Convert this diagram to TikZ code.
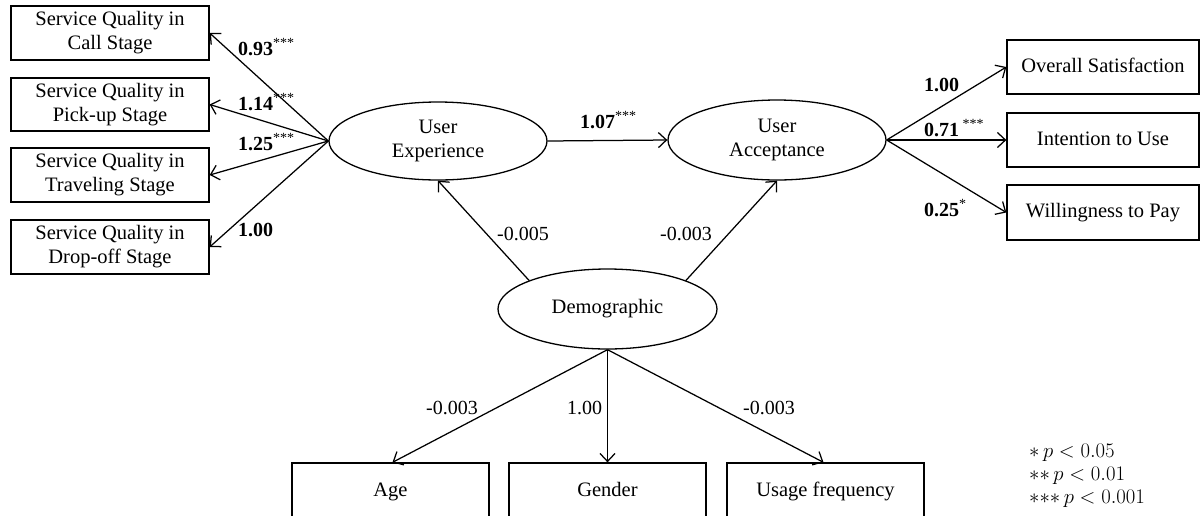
\documentclass[tikz,border=0pt]{standalone}
\usepackage{fontspec}
\setmainfont{Liberation Serif}
\usetikzlibrary{arrows.meta,shapes.geometric}
\begin{document}
\begin{tikzpicture}[x=1pt,y=-1pt,
  every node/.style={font=\fontsize{20.5}{24}\selectfont},
  obs/.style={draw, line width=1.3pt, rectangle, inner sep=0pt, align=center},
  one/.style={obs, text height=14pt, text depth=4pt},
  lat/.style={draw, line width=1.3pt, ellipse, inner sep=0pt, align=center},
  conn/.style={line width=1.25pt, -{Straight Barb[length=8pt,width=15pt,line width=1.25pt]}},
  blab/.style={anchor=west, inner sep=0pt, font=\fontsize{20}{24}\selectfont\bfseries},
  nlab/.style={anchor=west, inner sep=0pt, font=\fontsize{20}{24}\selectfont},
  leg/.style={anchor=west, inner sep=0pt, font=\fontsize{19.5}{22}\selectfont}
]
\useasboundingbox (0,0) rectangle (1202,515);

% left indicator boxes
\node[obs, minimum width=198pt, minimum height=54pt] (sq1) at (110,33) {Service Quality in\\Call Stage};
\node[obs, minimum width=198pt, minimum height=53pt] (sq2) at (110,104.5) {Service Quality in\\Pick-up Stage};
\node[obs, minimum width=198pt, minimum height=54pt] (sq3) at (110,175) {Service Quality in\\Traveling Stage};
\node[obs, minimum width=198pt, minimum height=54pt] (sq4) at (110,247) {Service Quality in\\Drop-off Stage};

% latent variables
\node[lat, minimum width=218pt, minimum height=78pt] (ue) at (438,141) {User\\Experience};
\node[lat, minimum width=218pt, minimum height=80pt] (ua) at (777,140) {User\\Acceptance};
\node[lat, minimum width=219pt, minimum height=80pt] (demo) at (607.5,309) {Demographic};

% right indicator boxes
\node[one, minimum width=192pt, minimum height=54pt] (os) at (1103,67) {Overall Satisfaction};
\node[one, minimum width=192pt, minimum height=54pt] (iu) at (1103,140) {Intention to Use};
\node[one, minimum width=192pt, minimum height=55pt] (wp) at (1103,212.5) {Willingness to Pay};

% bottom indicator boxes
\node[one, minimum width=197pt, minimum height=56pt] (age) at (390.5,491) {Age};
\node[one, minimum width=197pt, minimum height=56pt] (gen) at (607.5,491) {Gender};
\node[one, minimum width=197pt, minimum height=56pt] (use) at (825.5,491) {Usage frequency};

% connectors
\draw[conn] (ue.west) -- (sq1.east);
\draw[conn] (ue.west) -- (sq2.east);
\draw[conn] (ue.west) -- (sq3.east);
\draw[conn] (ue.west) -- (sq4.east);
\draw[conn] (ue.east) -- (ua.west);
\draw[conn] (ua.east) -- (os.west);
\draw[conn] (ua.east) -- (iu.west);
\draw[conn] (ua.east) -- (wp.west);
\draw[conn] (demo.160) -- (ue.south);
\draw[conn] (demo.20) -- (ua.south);
\draw[conn] (demo.south) -- ([xshift=2pt]age.north);
\draw[conn] (demo.south) -- (gen.north);
\draw[conn] (demo.south) -- ([xshift=-2pt]use.north);

% coefficient labels
\node[blab] (l1) at (238,47) {0.93\textsuperscript{\mdseries***}};
\node[blab] (l2) at (238,102) {1.14\textsuperscript{\mdseries***}};
\node[blab] (l3) at (238,142) {1.25\textsuperscript{\mdseries***}};
\node[blab] (l4) at (238,230) {1.00};
\node[blab] (l5) at (580,120) {1.07\textsuperscript{\mdseries***}};
\node[blab] (r1) at (924,85) {1.00};
\node[blab] (r2) at (924,128) {0.71\,\textsuperscript{\mdseries***}};
\node[blab] (r3) at (924,208) {0.25\textsuperscript{\mdseries*}};
\node[nlab] (d1) at (497,234) {-0.005};
\node[nlab] (d2) at (660,234) {-0.003};
\node[nlab] (b1) at (426,408) {-0.003};
\node[nlab] (b2) at (567,408) {1.00};
\node[nlab] (b3) at (743,408) {-0.003};

% legend
\node[leg] (g1) at (1029,453) {${\ast}\, p < 0.05$};
\node[leg] (g2) at (1029,476) {${\ast}{\ast}\, p < 0.01$};
\node[leg] (g3) at (1029,499) {${\ast}{\ast}{\ast}\, p < 0.001$};
\end{tikzpicture}
\end{document}
